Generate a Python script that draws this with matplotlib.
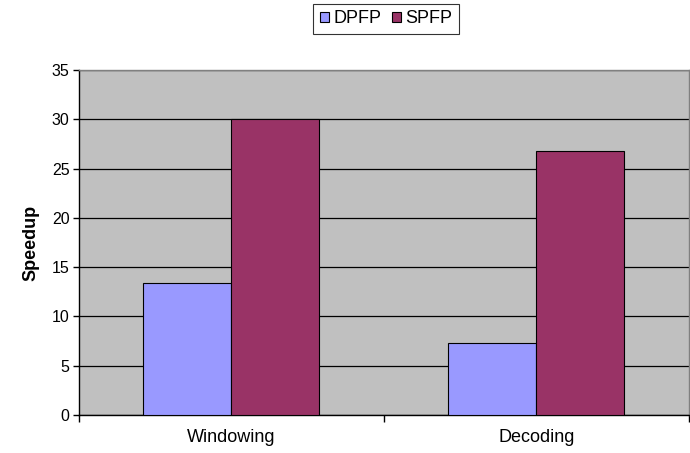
import matplotlib
matplotlib.use("Agg")
import matplotlib.pyplot as plt
import numpy as np

plt.rcParams['font.family'] = ['Liberation Sans', 'DejaVu Sans']

categories = ["Windowing", "Decoding"]
dpfp = [13.4, 7.3]
spfp = [30.0, 26.8]
yticks = [0, 5, 10, 15, 20, 25, 30, 35]

fig = plt.figure(figsize=(6.9, 4.53), dpi=100)
ax = fig.add_axes([0.1138, 0.0839, 0.8848, 0.7616])
ax.set_facecolor('#C0C0C0')

x = np.arange(len(categories))
w = 0.288
ax.bar(x - w / 2, dpfp, w, color='#9999FF', edgecolor='black', linewidth=0.8, label='DPFP', zorder=3)
ax.bar(x + w / 2, spfp, w, color='#993366', edgecolor='black', linewidth=0.8, label='SPFP', zorder=3)

ax.set_xlim(-0.5, len(categories) - 0.5)
ax.set_ylim(0, 35)
ax.set_yticks(yticks)
ax.set_yticklabels([str(t) for t in yticks], fontsize=11.5)
ax.yaxis.grid(True, color='black', linewidth=0.9, zorder=1)
ax.set_axisbelow(True)

ax.set_xticks(x)
ax.set_xticklabels(categories, fontsize=13)
ax.tick_params(axis='x', which='major', length=0, pad=10)
ax.set_xticks(np.arange(len(categories) + 1) - 0.5, minor=True)
ax.tick_params(axis='x', which='minor', length=5, width=1, direction='out')
ax.tick_params(axis='y', length=4.5, width=1, direction='out', pad=2)

for s in ['left', 'bottom']:
    ax.spines[s].set_color('black')
    ax.spines[s].set_linewidth(1.0)
for s in ['top', 'right']:
    ax.spines[s].set_color('#808080')
    ax.spines[s].set_linewidth(1.0)

ax.set_ylabel('Speedup', fontsize=13, fontweight='bold')
ax.yaxis.set_label_coords(-0.064, 0.5)

leg = fig.legend(loc='upper right', bbox_to_anchor=(0.665, 0.991), ncol=2, fontsize=13,
                 frameon=True, fancybox=False, edgecolor='black', handlelength=0.5,
                 handleheight=0.5, handletextpad=0.25, columnspacing=0.6,
                 borderpad=0.35, borderaxespad=0)
leg.get_frame().set_linewidth(0.8)

fig.savefig('out.png', dpi=100)
